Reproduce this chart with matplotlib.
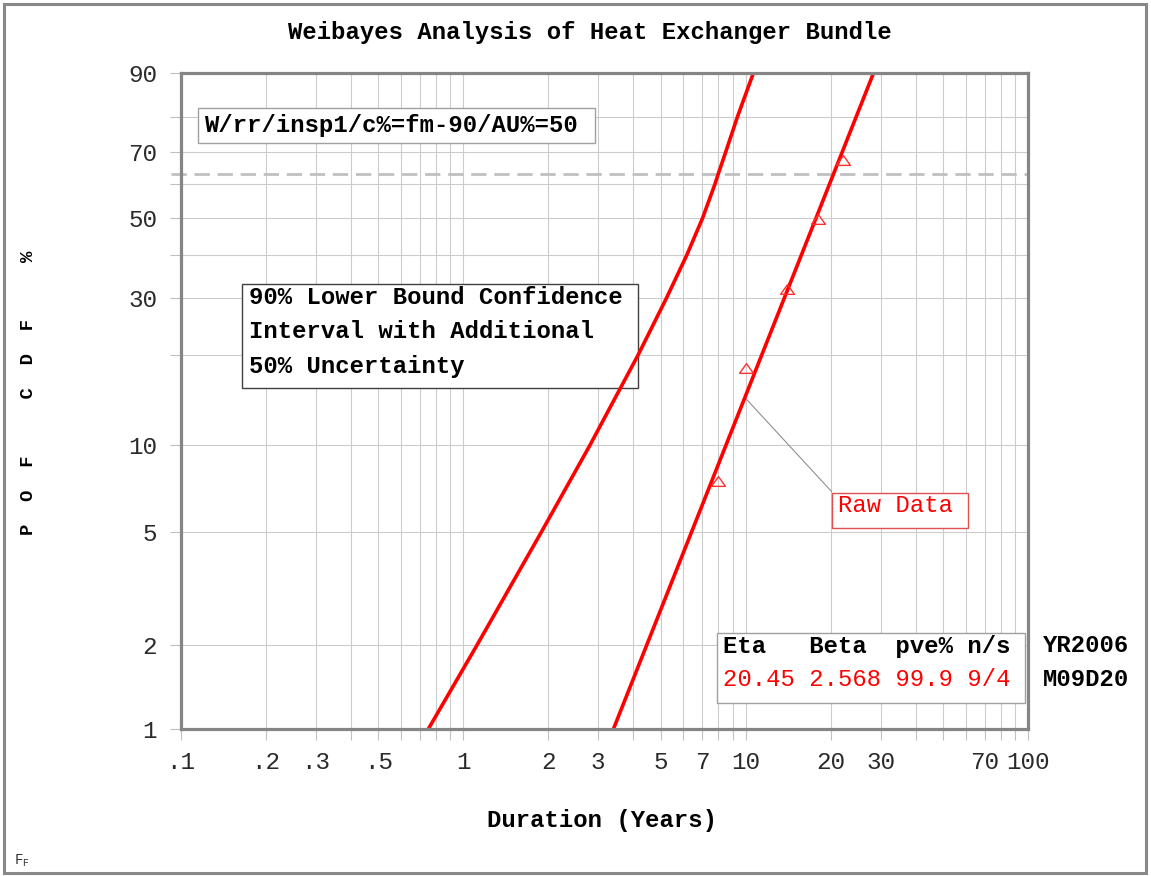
import numpy as np
import matplotlib.pyplot as plt
from matplotlib.patches import Rectangle
from matplotlib.ticker import FixedLocator, FixedFormatter, NullLocator

W, H = 1151, 876
MONO = 'Liberation Mono'
plt.rcParams['font.family'] = [MONO, 'DejaVu Sans Mono']

# DATA ------------------------------

# raw failure points (median ranks)
pts_x = [7.95, 9.99, 13.96, 18.06, 22.03]
pts_f = [7.55, 18.1, 31.9, 49.7, 67.4]

# Weibull fit line (eta 20.45, beta 2.568), ends
fit_x = [3.40, 28.3]
fit_f = [1.0, 90.0]

# 90% lower bound with 50% uncertainty
lb_x = [0.752, 1.120, 1.887, 2.804, 4.158, 5.233, 6.184, 7.029, 7.768, 7.988, 8.50, 9.35, 10.63]
lb_f = [1.0, 2.0, 5.0, 10.0, 20.0, 30.0, 40.0, 50.0, 60.0, 63.2, 70.0, 80.0, 90.0]

x_ticks = [m * 10.0**e for e in (-1, 0, 1) for m in range(1, 10)] + [100]
x_labels = {0.1: '.1', 0.2: '.2', 0.3: '.3', 0.5: '.5', 1: '1', 2: '2', 3: '3',
            5: '5', 7: '7', 10: '10', 20: '20', 30: '30', 70: '70', 100: '100'}
y_ticks = [1, 2, 5, 10, 20, 30, 40, 50, 60, 70, 80, 90]
y_labels = ['1', '2', '5', '10', '', '30', '', '50', '', '70', '', '90']

stat_head = ['Eta', 'Beta', 'pve%', 'n/s']
stat_vals = ['20.45', '2.568', '99.9', '9/4']
date_lines = ['YR2006', 'M09D20']
bound_lines = ['90% Lower Bound Confidence', 'Interval with Additional', '50% Uncertainty']


# WEIBULL PAPER SCALE -----------------

def fwd(f):
    f = np.clip(np.asarray(f, dtype=float), 1e-6, 99.99999)
    return np.log(-np.log(1 - f / 100.0))


def inv(w):
    return 100.0 * (1 - np.exp(-np.exp(np.asarray(w, dtype=float))))


def fx(px):
    return px / W


def fy(py):
    return 1 - py / H


# PLOTTING ----------------------------

fig = plt.figure(figsize=(W / 100, H / 100), dpi=100)
ax = fig.add_axes([fx(180.8), fy(729), (1028.3 - 180.8) / W, (729 - 73.3) / H])

ax.set_xscale('log')
ax.set_yscale('function', functions=(fwd, inv))
ax.set_xlim(0.1, 100)
ax.set_ylim(1, 90)

ax.xaxis.set_major_locator(FixedLocator(x_ticks))
ax.xaxis.set_major_formatter(FixedFormatter(
    [x_labels.get(round(t, 3), '') for t in x_ticks]))
ax.xaxis.set_minor_locator(NullLocator())
ax.yaxis.set_major_locator(FixedLocator(y_ticks))
ax.yaxis.set_major_formatter(FixedFormatter(y_labels))
ax.yaxis.set_minor_locator(NullLocator())

ax.tick_params(axis='both', length=8, width=0.8, color='#c0c0c0',
               labelsize=17.5, labelcolor='#2a2a2a')
ax.tick_params(axis='x', pad=8)
ax.tick_params(axis='y', pad=9)
ax.set_axisbelow(True)
ax.grid(True, color='#cccccc', lw=0.8)
for s in ax.spines.values():
    s.set_color('#858585')
    s.set_linewidth(2.3)
    s.set_zorder(5)

# 63.2% characteristic life line
ax.axhline(63.2, xmin=-0.012, xmax=1, color='#c0c0c0', lw=2,
           ls=(0, (5.5, 2.8)), clip_on=False, zorder=1)

ax.plot(lb_x, lb_f, color='#ff0000', lw=2.6, zorder=4, solid_joinstyle='round')
ax.plot(fit_x, fit_f, color='#ff0000', lw=2.6, zorder=4)
tri = [(-1, -0.7), (1, -0.7), (0, 0.7), (-1, -0.7)]
ax.plot(pts_x, pts_f, ls='none', marker=tri, ms=10, mfc='none',
        mec='#ff3030', mew=1.0, zorder=4)


def box(x0, y0, x1, y1, ec):
    ax.add_patch(Rectangle((fx(x0), fy(y1)), (x1 - x0) / W, (y1 - y0) / H,
                           transform=fig.transFigure, fc='white', ec=ec,
                           lw=1.0, clip_on=False, zorder=2))


def label(x, y, s, **kw):
    ax.text(fx(x), fy(y), s, transform=fig.transFigure, va='center',
            ha='left', fontsize=17.2, zorder=6, **kw)


# info boxes
box(198, 108, 595, 143, '#a0a0a0')
label(205, 125.5, 'W/rr/insp1/c%=fm-90/AU%=50', weight='bold')

box(241.5, 284, 637.5, 388, '#404040')
for i, line in enumerate(bound_lines):
    label(249, 297 + 35 * i, line, weight='bold')

box(716.5, 632.5, 1025, 702.5, '#a0a0a0')
label(723, 646, '{:<6}{:<6}{:<5}{}'.format(*stat_head), weight='bold')
label(723, 680, ' '.join(stat_vals), color='#ff0000')
label(1043, 646, date_lines[0], weight='bold')
label(1043, 680, date_lines[1], weight='bold')

# raw data call-out
ax.annotate('', xy=(10.0, 14.4), xytext=(831.7, H - 491.7),
            textcoords='figure pixels',
            arrowprops=dict(arrowstyle='-', color='#909090', lw=0.8,
                            shrinkA=0, shrinkB=0), zorder=3)
box(831.7, 492.7, 968.3, 527.7, '#e05050')
label(838, 506, 'Raw Data', color='#ff0000')

# titles
fig.text(fx(589.5), fy(33), 'Weibayes Analysis of Heat Exchanger Bundle',
         ha='center', va='center', fontsize=17.2, weight='bold')
fig.text(fx(602), fy(821), 'Duration (Years)', ha='center', va='center',
         fontsize=17.2, weight='bold')
fig.text(fx(29), fy(393), 'P  O  F     C  D  F     %', rotation=90,
         ha='center', va='center', fontsize=13.6, weight='bold')
fig.text(fx(14), fy(861), r'$\mathregular{F_F}$', ha='left', va='center',
         fontsize=10, color='#303030')

# outer frame
fig.patches.append(Rectangle((fx(4), fy(873)), 1142 / W, 869 / H,
                             transform=fig.transFigure, fill=False,
                             ec='#888888', lw=2.2))

fig.savefig('out.png', dpi=100)
